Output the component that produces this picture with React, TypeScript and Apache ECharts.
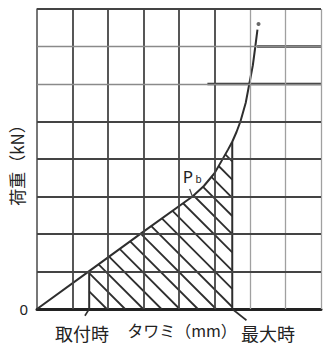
import React, { useEffect, useRef } from "react";
import * as echarts from "echarts";

// Load–deflection curve (x: タワミ, y: 荷重)
const curveX = [0, 1.47, 2.98, 4.38, 4.7, 5.0, 5.2, 5.38, 5.5, 5.62, 5.73, 5.88, 5.98, 6.08, 6.15, 6.21];
const curveY = [0, 1.01, 2.05, 3.0, 3.28, 3.62, 3.95, 4.25, 4.46, 4.72, 5.0, 5.5, 6.0, 6.5, 7.0, 7.45];
const endDot = [6.24, 7.6];
const attachX = 1.47; // 取付時
const maxX = 5.5; // 最大時
const pbPoint = [4.38, 3.0];

const darkVertical = [1, 2, 3, 4, 5];
const lightVertical = [6, 7, 8];
const darkHorizontal = [1, 2, 3, 4, 5, 8];
const lightHorizontal = [6, 7];
const heavySegments = [
  [[6.2, 7], [8, 7]],
  [[4.8, 6], [8, 6]],
];
const attachLeader = [[1.47, 0], [1.35, -0.18]];
const maxLeader = [[5.5, 0], [5.9, -0.3]];
const pbLeader = [[4.3, 3.2], [4.37, 3.02]];

const INK = "#2e2e2e";
const JP = "'Noto Sans CJK JP', 'Noto Sans', sans-serif";

function curveAt(x: number): number {
  for (let i = 0; i < curveX.length - 1; i++) {
    if (x >= curveX[i] && x <= curveX[i + 1]) {
      const t = (x - curveX[i]) / (curveX[i + 1] - curveX[i]);
      return curveY[i] + t * (curveY[i + 1] - curveY[i]);
    }
  }
  return curveY[curveY.length - 1];
}

export default function App() {
  const ref = useRef<HTMLDivElement>(null);
  useEffect(() => {
    if (!ref.current) return;
    const chart = echarts.init(ref.current, undefined, { renderer: "svg" });
    const curveData = curveX.map((x, i) => [x, curveY[i]]);

    const lineSeries = (data: number[][], color: string, width: number, extra: any = {}) => ({
      type: "line",
      data,
      symbol: "none",
      silent: true,
      clip: false,
      lineStyle: { color, width },
      z: 3,
      ...extra,
    });

    chart.setOption({
      animation: false,
      backgroundColor: "#ffffff",
      grid: { left: 37, right: 5, top: 9, bottom: 42 },
      xAxis: {
        type: "value",
        min: 0,
        max: 8,
        interval: 1,
        axisLine: { show: true, onZero: false, lineStyle: { color: "#222", width: 3 } },
        axisTick: { show: false },
        axisLabel: { show: false },
        splitLine: { show: false },
        name: "タワミ（mm）",
        nameLocation: "middle",
        nameGap: 13,
        nameTextStyle: {
          fontFamily: JP,
          fontSize: 16,
          color: "#222",
          padding: [0, 0, 0, 6],
        },
      },
      yAxis: {
        type: "value",
        min: 0,
        max: 8,
        interval: 1,
        axisLine: { show: true, onZero: false, lineStyle: { color: "#555", width: 1.6 } },
        axisTick: { show: false },
        axisLabel: {
          show: true,
          formatter: (v: number) => (v === 0 ? "0" : ""),
          margin: 9,
          fontSize: 15,
          fontFamily: "'Noto Sans', sans-serif",
          color: "#222",
          padding: [8, 0, 0, 0],
        },
        splitLine: { show: false },
      },
      series: [
        {
          type: "line",
          data: [],
          silent: true,
          markLine: {
            silent: true,
            symbol: "none",
            label: { show: false },
            data: [
              ...darkVertical.map((v) => ({ xAxis: v, lineStyle: { color: "#444", width: 1.8, type: "solid" } })),
              ...lightVertical.map((v) => ({ xAxis: v, lineStyle: { color: "#a0a0a0", width: 1.3, type: "solid" } })),
              ...darkHorizontal.map((v) => ({ yAxis: v, lineStyle: { color: "#444", width: 1.8, type: "solid" } })),
              ...lightHorizontal.map((v) => ({ yAxis: v, lineStyle: { color: "#8a8a8a", width: 1.4, type: "solid" } })),
            ],
          },
          z: 1,
        },
        ...heavySegments.map((seg) => lineSeries(seg, "#333", 2.6, { z: 2 })),
        {
          type: "custom",
          silent: true,
          data: [[0, 0]],
          z: 3,
          renderItem: (_params: any, api: any) => {
            const poly: number[][] = [];
            poly.push(api.coord([attachX, 0]));
            poly.push(api.coord([attachX, curveAt(attachX)]));
            for (let i = 0; i < curveX.length; i++) {
              if (curveX[i] > attachX && curveX[i] < maxX) poly.push(api.coord([curveX[i], curveY[i]]));
            }
            poly.push(api.coord([maxX, curveAt(maxX)]));
            poly.push(api.coord([maxX, 0]));
            const corner = api.coord([maxX, 0]);
            const c0 = corner[0] - corner[1] + 2;
            const cs = poly.map((p) => p[0] - p[1]);
            const cMin = Math.min(...cs);
            const cMax = Math.max(...cs);
            const spacing = 18.2;
            const kMin = Math.ceil((cMin - c0) / spacing);
            const kMax = Math.floor((cMax - c0) / spacing);
            const children: any[] = [];
            for (let k = kMin; k <= kMax; k++) {
              const c = c0 + k * spacing;
              const xs: number[] = [];
              for (let i = 0; i < poly.length; i++) {
                const p = poly[i];
                const q = poly[(i + 1) % poly.length];
                const fp = p[0] - p[1] - c;
                const fq = q[0] - q[1] - c;
                if (fp > 0 !== fq > 0) {
                  const t = fp / (fp - fq);
                  xs.push(p[0] + t * (q[0] - p[0]));
                }
              }
              xs.sort((a, b) => a - b);
              for (let j = 0; j + 1 < xs.length; j += 2) {
                children.push({
                  type: "line",
                  shape: { x1: xs[j], y1: xs[j] - c, x2: xs[j + 1], y2: xs[j + 1] - c },
                  style: { stroke: INK, lineWidth: 1.8 },
                });
              }
            }
            return { type: "group", children };
          },
        },
        lineSeries([[attachX, 0], [attachX, curveAt(attachX)]], INK, 2),
        lineSeries([[maxX, 0], [maxX, curveAt(maxX)]], INK, 2),
        lineSeries(curveData, INK, 2, { z: 4 }),
        lineSeries(attachLeader, INK, 1.6),
        lineSeries(maxLeader, INK, 1.6),
        lineSeries(pbLeader, "#444", 1.2),
        {
          type: "scatter",
          data: [endDot],
          symbol: "circle",
          symbolSize: 4,
          silent: true,
          itemStyle: { color: "#444" },
          z: 5,
        },
        {
          type: "scatter",
          data: [pbPoint],
          symbolSize: 0,
          silent: true,
          label: { show: false },
        },
      ],
      graphic: [
        {
          type: "text",
          x: 16.5,
          y: 161,
          rotation: Math.PI / 2,
          style: {
            text: "荷重（kN）",
            fontFamily: JP,
            fontSize: 17,
            fill: "#222",
            align: "center",
            verticalAlign: "middle",
          },
        },
        {
          type: "text",
          x: 82,
          y: 333,
          style: { text: "取付時", fontFamily: JP, fontSize: 18, fill: "#222", align: "center", verticalAlign: "middle" },
        },
        {
          type: "text",
          x: 268,
          y: 333,
          style: { text: "最大時", fontFamily: JP, fontSize: 18, fill: "#222", align: "center", verticalAlign: "middle" },
        },
        {
          type: "text",
          x: 188,
          y: 176,
          style: { text: "P", fontFamily: "'Noto Sans', sans-serif", fontSize: 17, fill: "#222", align: "center", verticalAlign: "middle" },
        },
        {
          type: "text",
          x: 198.5,
          y: 178.5,
          style: { text: "b", fontFamily: "'Noto Sans', sans-serif", fontSize: 10, fill: "#222", align: "center", verticalAlign: "middle" },
        },
      ],
    });
    return () => chart.dispose();
  }, []);
  return (
    <div
      ref={ref}
      style={{ position: "fixed", left: 0, top: 0, width: 326, height: 351, background: "#fff" }}
    />
  );
}
